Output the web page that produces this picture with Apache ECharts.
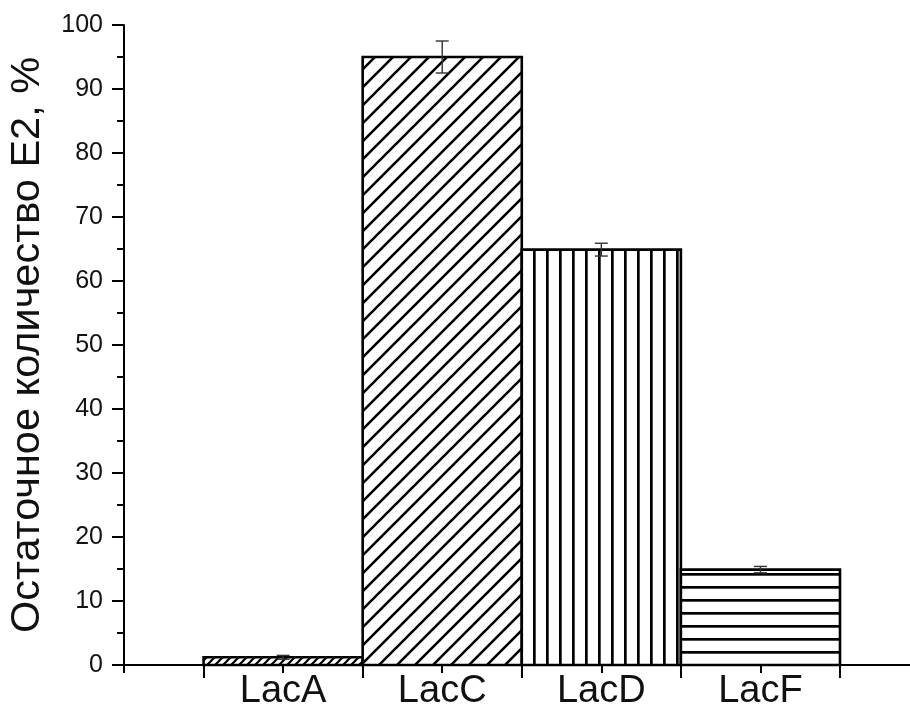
<!DOCTYPE html>
<html>
<head>
<meta charset="utf-8">
<script src="https://cdn.jsdelivr.net/npm/echarts@6/dist/echarts.min.js"></script>
<style>
  html, body { margin: 0; padding: 0; background: #fff; }
  #chart { width: 910px; height: 708px; }
</style>
</head>
<body>
<div id="chart"></div>
<script>
// ---- data ----
const categories = ['LacA', 'LacC', 'LacD', 'LacF'];
const positions = [1, 2, 3, 4];
const values = [1.2, 95, 64.9, 14.9];
const errors = [0.3, 2.5, 1.0, 0.5];
const patternKinds = ['diagDense', 'diag', 'vert', 'horiz'];
const yTitle = 'Остаточное количество E2, %';
const FONT = "'Liberation Sans', Arial, sans-serif";

function makePattern(kind) {
  const c = document.createElement('canvas');
  let P;
  if (kind === 'diag') P = 18;
  else if (kind === 'diagDense') P = 8;
  else P = 13;
  c.width = P; c.height = P;
  const ctx = c.getContext('2d');
  ctx.fillStyle = '#fff';
  ctx.fillRect(0, 0, P, P);
  ctx.strokeStyle = '#000';
  ctx.lineCap = 'butt';
  if (kind === 'diag' || kind === 'diagDense') {
    ctx.lineWidth = kind === 'diag' ? 2.6 : 2.2;
    ctx.beginPath();
    ctx.moveTo(-1, P + 1); ctx.lineTo(P + 1, -1);
    ctx.moveTo(-P / 2 - 1, P / 2 + 1); ctx.lineTo(P / 2 + 1, -P / 2 - 1);
    ctx.moveTo(P / 2 - 1, 3 * P / 2 + 1); ctx.lineTo(3 * P / 2 + 1, P / 2 - 1);
    ctx.stroke();
  } else if (kind === 'vert') {
    ctx.fillStyle = '#000';
    ctx.fillRect(0, 0, 2.7, P);
  } else {
    ctx.fillStyle = '#000';
    ctx.fillRect(0, 1, P, 2.7);
  }
  return { image: c, repeat: 'repeat' };
}
const patterns = patternKinds.map(makePattern);

const barData = positions.map((p, i) => [p, values[i]]);
const errData = positions.map((p, i) => [p, values[i] - errors[i], values[i] + errors[i]]);

const chart = echarts.init(document.getElementById('chart'), null, { renderer: 'canvas' });
const XMAX = 4.94;
chart.setOption({
  animation: false,
  backgroundColor: '#fff',
  grid: { left: 124, right: 0, top: 25, bottom: 43, containLabel: false, outerBoundsMode: 'none' },
  xAxis: [
    {
      type: 'value', min: 0, max: XMAX, position: 'bottom',
      axisLine: { show: true, onZero: false, lineStyle: { color: '#000', width: 2 } },
      axisTick: { show: true, customValues: [0.5, 1.5, 2.5, 3.5, 4.5], length: 13, lineStyle: { color: '#000', width: 2 } },
      axisLabel: { show: false },
      splitLine: { show: false }
    },
    {
      type: 'value', min: 0, max: XMAX, position: 'bottom',
      axisLine: { show: false, onZero: false },
      axisTick: { show: true, customValues: [0, 1, 2, 3, 4], length: 8, lineStyle: { color: '#000', width: 2 } },
      axisLabel: {
        show: true, customValues: positions, margin: 8,
        formatter: v => categories[positions.indexOf(Math.round(v))] || '',
        fontSize: 38, fontFamily: FONT, color: '#111'
      },
      splitLine: { show: false }
    }
  ],
  yAxis: {
    type: 'value', min: 0, max: 100, interval: 10,
    name: yTitle, nameLocation: 'middle', nameGap: 75, nameMoveOverlap: false,
    nameTextStyle: { fontSize: 41.5, fontFamily: FONT, color: '#111' },
    axisLine: { show: true, lineStyle: { color: '#000', width: 2 } },
    axisTick: { show: true, length: 12, lineStyle: { color: '#000', width: 2 } },
    minorTick: { show: true, splitNumber: 2, length: 7, lineStyle: { color: '#000', width: 2 } },
    axisLabel: { fontSize: 25, fontFamily: FONT, color: '#111', margin: 21 },
    splitLine: { show: false }
  },
  series: [
    {
      type: 'custom', xAxisIndex: 0, clip: false, z: 2,
      data: barData,
      renderItem: function (params, api) {
        const x = api.value(0), y = api.value(1);
        const p0 = api.coord([x - 0.5, y]);
        const p1 = api.coord([x + 0.5, 0]);
        return {
          type: 'rect',
          shape: { x: p0[0], y: p0[1], width: p1[0] - p0[0], height: p1[1] - p0[1] },
          style: { fill: patterns[params.dataIndex], stroke: '#000', lineWidth: 2.6 }
        };
      }
    },
    {
      type: 'custom', xAxisIndex: 0, clip: false, z: 3,
      data: errData,
      renderItem: function (params, api) {
        const x = api.value(0);
        const lo = api.coord([x, api.value(1)]);
        const hi = api.coord([x, api.value(2)]);
        const cw = 6.5;
        const st = { stroke: '#333', lineWidth: 1.4 };
        return {
          type: 'group',
          children: [
            { type: 'line', shape: { x1: hi[0], y1: hi[1], x2: lo[0], y2: lo[1] }, style: st },
            { type: 'line', shape: { x1: hi[0] - cw, y1: hi[1], x2: hi[0] + cw, y2: hi[1] }, style: st },
            { type: 'line', shape: { x1: lo[0] - cw, y1: lo[1], x2: lo[0] + cw, y2: lo[1] }, style: st }
          ]
        };
      }
    }
  ]
});
</script>
</body>
</html>
